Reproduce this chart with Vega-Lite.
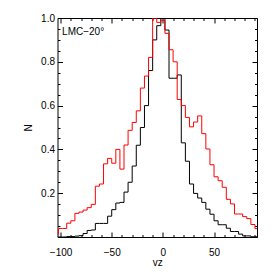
{
  "$schema": "https://vega.github.io/schema/vega-lite/v6.json",
  "width": 199.5,
  "height": 219,
  "autosize": {"type": "none"},
  "padding": {"left": 57.5, "top": 18, "right": 17, "bottom": 37},
  "background": "white",
  "config": {"view": {"stroke": "#000", "strokeWidth": 1}, "font": "Liberation Sans"},
  "data": {"values": [
    {"v": -104, "black": 0.0, "red": 0.014},
    {"v": -100, "black": 0.0, "red": 0.039},
    {"v": -96, "black": 0.0, "red": 0.039},
    {"v": -92, "black": 0.002, "red": 0.063},
    {"v": -88, "black": 0.002, "red": 0.074},
    {"v": -84, "black": 0.004, "red": 0.108},
    {"v": -80, "black": 0.006, "red": 0.114},
    {"v": -76, "black": 0.016, "red": 0.123},
    {"v": -72, "black": 0.03, "red": 0.134},
    {"v": -68, "black": 0.032, "red": 0.149},
    {"v": -64, "black": 0.062, "red": 0.232},
    {"v": -60, "black": 0.062, "red": 0.242},
    {"v": -56, "black": 0.062, "red": 0.334},
    {"v": -52, "black": 0.095, "red": 0.359},
    {"v": -48, "black": 0.125, "red": 0.337},
    {"v": -44, "black": 0.155, "red": 0.4},
    {"v": -40, "black": 0.158, "red": 0.31},
    {"v": -36, "black": 0.205, "red": 0.42},
    {"v": -32, "black": 0.25, "red": 0.487},
    {"v": -28, "black": 0.324, "red": 0.523},
    {"v": -24, "black": 0.419, "red": 0.576},
    {"v": -20, "black": 0.5, "red": 0.68},
    {"v": -16, "black": 0.6, "red": 0.735},
    {"v": -12, "black": 0.76, "red": 0.82},
    {"v": -8, "black": 0.9, "red": 1.0},
    {"v": -4, "black": 0.965, "red": 0.98},
    {"v": 0, "black": 1.0, "red": 0.99},
    {"v": 4, "black": 0.945, "red": 0.93},
    {"v": 8, "black": 0.725, "red": 0.855},
    {"v": 12, "black": 0.725, "red": 0.8},
    {"v": 16, "black": 0.74, "red": 0.628},
    {"v": 20, "black": 0.43, "red": 0.6},
    {"v": 24, "black": 0.346, "red": 0.546},
    {"v": 28, "black": 0.242, "red": 0.503},
    {"v": 32, "black": 0.199, "red": 0.525},
    {"v": 36, "black": 0.178, "red": 0.553},
    {"v": 40, "black": 0.158, "red": 0.472},
    {"v": 44, "black": 0.127, "red": 0.402},
    {"v": 48, "black": 0.104, "red": 0.33},
    {"v": 52, "black": 0.074, "red": 0.275},
    {"v": 56, "black": 0.056, "red": 0.257},
    {"v": 60, "black": 0.056, "red": 0.227},
    {"v": 64, "black": 0.04, "red": 0.172},
    {"v": 68, "black": 0.025, "red": 0.151},
    {"v": 72, "black": 0.025, "red": 0.105},
    {"v": 76, "black": 0.013, "red": 0.105},
    {"v": 80, "black": 0.005, "red": 0.093},
    {"v": 84, "black": 0.005, "red": 0.084},
    {"v": 88, "black": 0.001, "red": 0.057},
    {"v": 92, "black": 0.001, "red": 0.038}
  ]},
  "layer": [
    {
      "mark": {"type": "line", "interpolate": "step", "color": "#000000", "strokeWidth": 1, "clip": true},
      "encoding": {
        "x": {
          "field": "v", "type": "quantitative",
          "scale": {"domain": [-103, 92], "nice": false, "zero": false},
          "axis": {
            "orient": "bottom",
            "values": [-100, -90, -80, -70, -60, -50, -40, -30, -20, -10, 0, 10, 20, 30, 40, 50, 60, 70, 80, 90],
            "format": "d",
            "domain": false, "ticks": false,
            "grid": true, "gridColor": "#000", "gridOpacity": 1, "gridWidth": 1,
            "gridDash": {"condition": {"test": "datum.value % 50 === 0", "value": [5, 209]}, "value": [2.5, 214]},
            "labelExpr": "datum.value % 50 === 0 ? datum.label : ''",
            "labelFont": "Liberation Sans", "labelFontSize": 10, "labelColor": "#000",
            "labelPadding": 10.5, "labelFlush": false, "labelOverlap": false,
            "title": "vz", "titleFont": "Liberation Sans", "titleFontSize": 10, "titleFontWeight": "normal",
            "titleColor": "#000", "titleY": 28, "titleBaseline": "alphabetic"
          }
        },
        "y": {
          "field": "black", "type": "quantitative",
          "scale": {"domain": [0, 1], "nice": false, "zero": false},
          "axis": {
            "orient": "left",
            "values": [0, 0.05, 0.1, 0.15, 0.2, 0.25, 0.3, 0.35, 0.4, 0.45, 0.5, 0.55, 0.6, 0.65, 0.7, 0.75, 0.8, 0.85, 0.9, 0.95, 1],
            "domain": false, "ticks": false,
            "grid": true, "gridColor": "#000", "gridOpacity": 1, "gridWidth": 1,
            "gridDash": {"condition": {"test": "abs(datum.value*5 - round(datum.value*5)) < 0.001", "value": [5, 189.5]}, "value": [2.5, 194.5]},
            "labelExpr": "(datum.value > 0.01 && abs(datum.value*5 - round(datum.value*5)) < 0.001) ? format(datum.value, '.1f') : ''",
            "labelFont": "Liberation Sans", "labelFontSize": 10, "labelColor": "#000",
            "labelPadding": 3, "labelFlush": false, "labelOverlap": false,
            "title": "N", "titleFont": "Liberation Sans", "titleFontSize": 10, "titleFontWeight": "normal",
            "titleColor": "#000", "titleX": -26, "titleBaseline": "alphabetic"
          }
        }
      }
    },
    {
      "mark": {"type": "line", "interpolate": "step", "color": "#ff0000", "strokeWidth": 1, "clip": true},
      "encoding": {
        "x": {"field": "v", "type": "quantitative", "axis": null},
        "y": {"field": "red", "type": "quantitative", "axis": null}
      }
    },
    {
      "data": {"values": [{"label": "LMC−20°", "x": -98.5, "y": 0.935}]},
      "mark": {"type": "text", "align": "left", "baseline": "middle", "font": "Liberation Sans", "fontSize": 10, "color": "#000"},
      "encoding": {
        "x": {"field": "x", "type": "quantitative", "axis": null},
        "y": {"field": "y", "type": "quantitative", "axis": null},
        "text": {"field": "label"}
      }
    }
  ],
  "resolve": {"axis": {"x": "independent", "y": "independent"}}
}
